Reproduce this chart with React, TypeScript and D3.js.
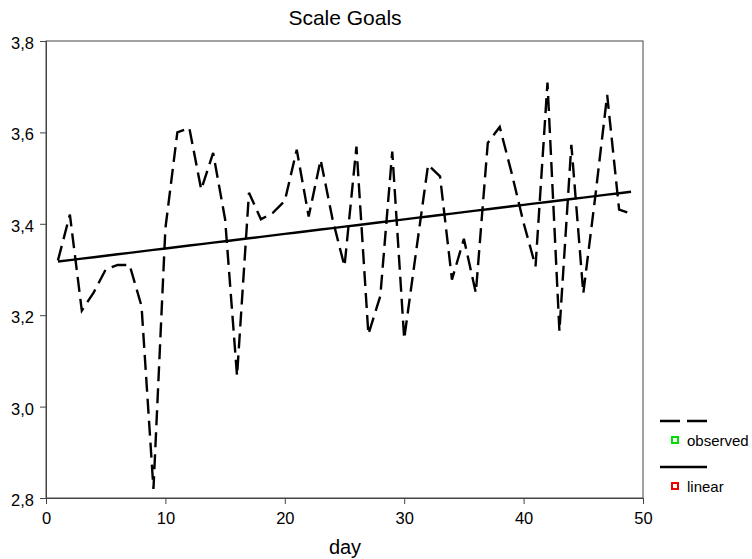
import * as d3 from "d3";
import { useEffect, useRef } from "react";

// observed values, day 1..49
const days = d3.range(1, 50);
const observed = [
  3.32, 3.42, 3.21, 3.25, 3.3, 3.31, 3.31, 3.22, 2.82, 3.39,
  3.6, 3.61, 3.475, 3.555, 3.41, 3.067, 3.468, 3.41, 3.424, 3.45,
  3.562, 3.416, 3.54, 3.41, 3.307, 3.569, 3.158, 3.242, 3.558, 3.148,
  3.34, 3.529, 3.504, 3.278, 3.367, 3.249, 3.577, 3.612, 3.511, 3.402,
  3.307, 3.709, 3.165, 3.573, 3.248, 3.459, 3.682, 3.431, 3.422,
];
const xTicks = [0, 10, 20, 30, 40, 50];
const yTicks = [2.8, 3.0, 3.2, 3.4, 3.6, 3.8];
const legendItems = [
  { label: "observed", dash: "20,7", swatch: "#00dd00" },
  { label: "linear", dash: null, swatch: "#ee0000" },
];

const W = 752, H = 559;
const margin = { top: 41, right: 109, bottom: 61, left: 46 };

const fmt = (v: number) => d3.format(".1f")(v).replace(".", ",");

export default function App() {
  const ref = useRef<SVGSVGElement>(null);

  useEffect(() => {
    const svg = d3.select(ref.current);
    svg.selectAll("*").remove();
    const font = "'Liberation Sans', Arial, sans-serif";

    const x = d3.scaleLinear().domain([0, 50]).range([margin.left, W - margin.right]);
    const y = d3.scaleLinear().domain([2.8, 3.8]).range([H - margin.bottom, margin.top]);

    // least-squares fit for the "linear" series
    const mx = d3.mean(days)!, my = d3.mean(observed)!;
    const slope = d3.sum(days, (d, i) => (d - mx) * (observed[i] - my)) / d3.sum(days, d => (d - mx) ** 2);
    const fit = days.map(d => my + slope * (d - mx));

    svg.append("rect").attr("width", W).attr("height", H).attr("fill", "#fff");

    svg.append("text").attr("x", 345).attr("y", 25).attr("text-anchor", "middle")
      .attr("font-family", font).attr("font-size", 21).text("Scale Goals");

    const line = d3.line<number>().x((_, i) => x(days[i])).y(d => y(d));

    svg.append("path").datum(observed).attr("d", line).attr("fill", "none")
      .attr("stroke", "#000").attr("stroke-width", 2.4).attr("stroke-dasharray", "15,7");
    svg.append("path").datum(fit).attr("d", line).attr("fill", "none")
      .attr("stroke", "#000").attr("stroke-width", 2.4);

    svg.append("rect").attr("x", margin.left).attr("y", margin.top)
      .attr("width", W - margin.left - margin.right).attr("height", H - margin.top - margin.bottom)
      .attr("fill", "none").attr("stroke", "#444").attr("stroke-width", 1);

    const xAxis = svg.append("g").attr("transform", `translate(0,${H - margin.bottom})`)
      .call(d3.axisBottom(x).tickValues(xTicks).tickSize(6).tickPadding(8).tickFormat(d3.format("d")));
    const yAxis = svg.append("g").attr("transform", `translate(${margin.left},0)`)
      .call(d3.axisLeft(y).tickValues(yTicks).tickSize(6).tickPadding(6).tickFormat(d => fmt(+d)));
    [xAxis, yAxis].forEach(g => {
      g.select(".domain").attr("stroke", "#444");
      g.selectAll(".tick line").attr("stroke", "#444");
      g.selectAll("text").attr("font-family", font).attr("font-size", 16.5).attr("fill", "#000");
    });
    yAxis.selectAll("text").attr("dy", "0.45em");

    svg.append("text").attr("x", 345).attr("y", 554).attr("text-anchor", "middle")
      .attr("font-family", font).attr("font-size", 20).text("day");

    const lg = svg.append("g");
    legendItems.forEach((it, i) => {
      const yy = 421 + i * 46;
      lg.append("line").attr("x1", 660).attr("x2", 707).attr("y1", yy).attr("y2", yy)
        .attr("stroke", "#000").attr("stroke-width", 2.4).attr("stroke-dasharray", it.dash);
      lg.append("rect").attr("x", 672).attr("y", yy + 16).attr("width", 6).attr("height", 6)
        .attr("fill", "#fff").attr("stroke", it.swatch).attr("stroke-width", 2);
      lg.append("text").attr("x", 687).attr("y", yy + 25).attr("font-family", font)
        .attr("font-size", 15).text(it.label);
    });
  }, []);

  return <svg ref={ref} width={W} height={H} style={{ display: "block", position: "fixed", top: 0, left: 0 }} />;
}
